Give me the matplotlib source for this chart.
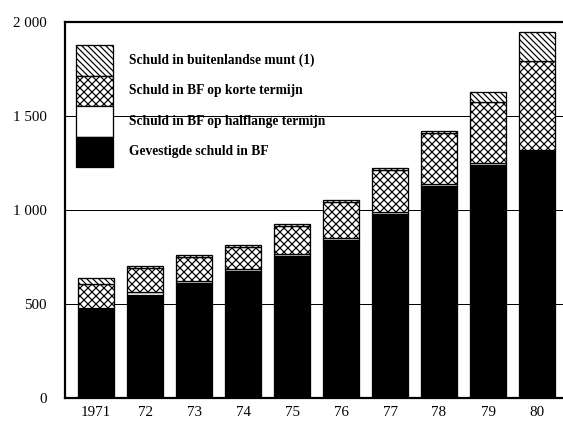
import matplotlib.pyplot as plt
from matplotlib.patches import Rectangle
from matplotlib.ticker import FuncFormatter

# overheidsschuld in miljard BF, per jaar
jaren = ['1971', '72', '73', '74', '75', '76', '77', '78', '79', '80']
gevestigd = [473, 550, 612, 673, 756, 841, 978, 1128, 1242, 1314]
halflang = [8, 12, 9, 12, 10, 11, 12, 8, 6, 5]
kort = [125, 130, 130, 118, 149, 191, 225, 274, 328, 474]
buitenland = [32, 10, 10, 11, 9, 10, 10, 10, 54, 156]

labels = ['Schuld in buitenlandse munt (1)',
          'Schuld in BF op korte termijn',
          'Schuld in BF op halflange termijn',
          'Gevestigde schuld in BF']

plt.rcParams['font.family'] = ['Liberation Serif', 'DejaVu Serif']
plt.rcParams['hatch.linewidth'] = 1.2

KRUIS = 'xxx'
SCHUIN = '\\\\\\\\'

# dpi 72 so that the hatch spacing comes out coarse enough
fig = plt.figure(figsize=(563 / 72, 424 / 72), dpi=72)
ax = fig.add_axes([65 / 563, 1 - 398 / 424, 1 - 65 / 563, (398 - 22) / 424])

x = list(range(len(jaren)))
w = 0.73
lagen = [(gevestigd, 'black', None),
         (halflang, 'white', None),
         (kort, 'white', KRUIS),
         (buitenland, 'white', SCHUIN)]
bottom = [0] * len(jaren)
for vals, kleur, hatch in lagen:
    ax.bar(x, vals, w, bottom=bottom, color=kleur, hatch=hatch,
           edgecolor='black', linewidth=1.3, zorder=3)
    bottom = [b + v for b, v in zip(bottom, vals)]

for y in (500, 1000, 1500):
    ax.axhline(y, color='black', lw=1.0, zorder=1)

ax.set_xlim(-0.633, 9.53)
ax.set_ylim(0, 2000)
ax.set_xticks(x)
ax.set_xticklabels(jaren)
ax.set_yticks([0, 500, 1000, 1500, 2000])
ax.yaxis.set_major_formatter(FuncFormatter(lambda v, p: f'{int(v):,}'.replace(',', ' ')))
ax.tick_params(axis='both', length=0, labelsize=15)
ax.tick_params(axis='y', pad=18)
ax.tick_params(axis='x', pad=8)

for s in ('left', 'top', 'bottom'):
    ax.spines[s].set_linewidth(2.2)
ax.spines['right'].set_visible(False)

# legend: stacked boxes with text
hatches = [('white', SCHUIN), ('white', KRUIS), ('white', None), ('black', None)]
bx0 = (76 - 65) / 498
bw = 37 / 498
bh = 30.5 / 376
btop = (398 - 45) / 376
for i, ((kleur, hatch), lab) in enumerate(zip(hatches, labels)):
    yb = btop - (i + 1) * bh
    ax.add_patch(Rectangle((bx0, yb), bw, bh, transform=ax.transAxes,
                           facecolor=kleur, hatch=hatch, edgecolor='black',
                           linewidth=1.3, zorder=5))
    ax.text(bx0 + bw + 16 / 498, yb + bh / 2, lab, transform=ax.transAxes,
            fontsize=13.5, fontweight='bold', va='center', ha='left', zorder=5)

fig.savefig('out.png', dpi=72)
